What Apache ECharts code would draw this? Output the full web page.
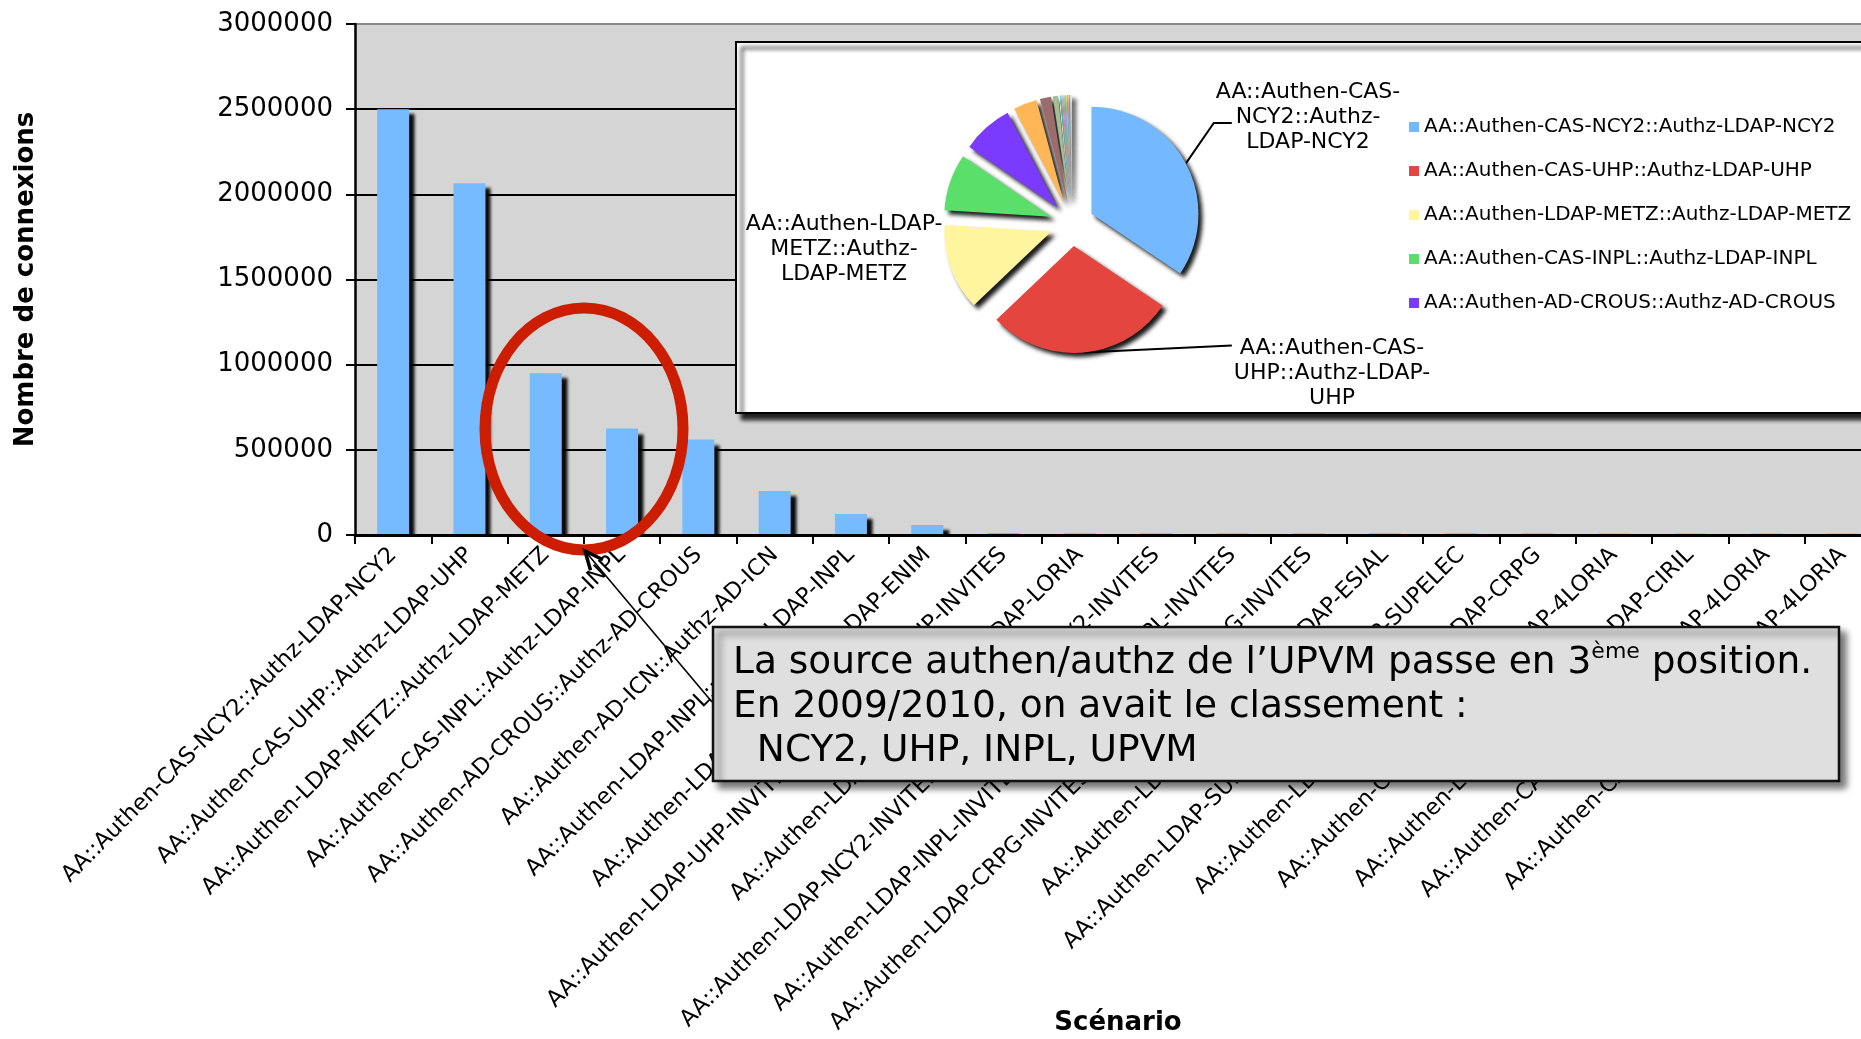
<!DOCTYPE html>
<html>
<head>
<meta charset="utf-8">
<script src="https://cdn.jsdelivr.net/npm/echarts@6/dist/echarts.min.js"></script>
<style>
    html, body { margin: 0; padding: 0; background: #fff; }
    #chart { width: 1861px; height: 1039px; }
</style>
</head>
<body>
<div id="chart"></div>
<script>
    // scénarios, triés par nombre de connexions
    var categories = [
        'AA::Authen-CAS-NCY2::Authz-LDAP-NCY2',
        'AA::Authen-CAS-UHP::Authz-LDAP-UHP',
        'AA::Authen-LDAP-METZ::Authz-LDAP-METZ',
        'AA::Authen-CAS-INPL::Authz-LDAP-INPL',
        'AA::Authen-AD-CROUS::Authz-AD-CROUS',
        'AA::Authen-AD-ICN::Authz-AD-ICN',
        'AA::Authen-LDAP-INPL::Authz-LDAP-INPL',
        'AA::Authen-LDAP-ENIM::Authz-LDAP-ENIM',
        'AA::Authen-LDAP-UHP-INVITES::Authz-LDAP-UHP-INVITES',
        'AA::Authen-LDAP-LORIA::Authz-LDAP-LORIA',
        'AA::Authen-LDAP-NCY2-INVITES::Authz-LDAP-NCY2-INVITES',
        'AA::Authen-LDAP-INPL-INVITES::Authz-LDAP-INPL-INVITES',
        'AA::Authen-LDAP-CRPG-INVITES::Authz-LDAP-CRPG-INVITES',
        'AA::Authen-LDAP-ESIAL::Authz-LDAP-ESIAL',
        'AA::Authen-LDAP-SUPELEC::Authz-LDAP-SUPELEC',
        'AA::Authen-LDAP-CRPG::Authz-LDAP-CRPG',
        'AA::Authen-CAS-UHP::Authz-LDAP-4LORIA',
        'AA::Authen-LDAP-CIRIL::Authz-LDAP-CIRIL',
        'AA::Authen-CAS-NCY2::Authz-LDAP-4LORIA',
        'AA::Authen-CAS-INPL::Authz-LDAP-4LORIA'
    ];
    var connexions = [2500000, 2065000, 950000, 625000, 560000, 258000, 123000, 58000,
        11500, 11000, 10800, 10500, 10300, 10000, 9800, 9600, 9400, 9200, 9000, 8800];

    var pieColors = ['#74b9ff', '#e5453f', '#fff59e', '#5adf6a', '#7b3bff', '#ffb657',
        '#9c6b6b', '#a6be96', '#fffbc8', '#3fd3f0', '#c8c8c8', '#f0a0c0', '#90e0b0',
        '#b0b0ff', '#e0e080', '#80c0ff', '#ffc0a0', '#a0a0a0', '#d0f0f0', '#ffe0ff'];
    var pieLabels = [
        'AA::Authen-CAS-\nNCY2::Authz-\nLDAP-NCY2',
        'AA::Authen-CAS-\nUHP::Authz-LDAP-\nUHP',
        'AA::Authen-LDAP-\nMETZ::Authz-\nLDAP-METZ'
    ];
    var pieLabelPos = [[1308, 117], [1332, 373], [844, 249]];
    var legendNames = categories.slice(0, 5);

    var yMax = 3000000, yStep = 500000;

    var noteText = '{a|La source authen/authz de l\u2019UPVM passe en 3}{s|ème}{a| position.}\n' +
        '{a|En 2009/2010, on avait le classement :}\n' +
        '{a|  NCY2, UHP, INPL, UPVM}';

    var font = 'DejaVu Sans';
    var pieCenter = [1072, 224], pieRadius = 107, pieOffset = 22;

    // flèche de la note vers le cercle
    var tip = [585, 551], tail = [712, 702];
    var ang = Math.atan2(tail[1] - tip[1], tail[0] - tip[0]);
    var head = [
        [tip[0] + 20 * Math.cos(ang - 0.42), tip[1] + 20 * Math.sin(ang - 0.42)],
        tip,
        [tip[0] + 20 * Math.cos(ang + 0.42), tip[1] + 20 * Math.sin(ang + 0.42)]
    ];

    var pieData = connexions.map(function (v, i) {
        return { name: categories[i], value: v, selected: true };
    });
    // même découpage, sans éclatement, qui porte seulement les étiquettes
    var pieLabelData = connexions.map(function (v, i) {
        return {
            name: categories[i],
            value: v,
            label: { show: i < 3 },
            labelLine: { show: i < 2 }
        };
    });

    var myChart = echarts.init(document.getElementById('chart'));
    var option = {
        animation: false,
        textStyle: { fontFamily: font },
        grid: {
            left: 355, top: 24, width: 1526, height: 511,
            outerBoundsMode: 'none',
            containLabel: false,
            show: true, backgroundColor: '#d5d5d5', borderWidth: 0
        },
        xAxis: {
            type: 'category',
            data: categories,
            z: 5,
            offset: 1.5,
            name: 'Scénario',
            nameLocation: 'middle',
            nameGap: 474,
            nameMoveOverlap: false,
            nameTextStyle: { fontSize: 26, fontWeight: 'bold', color: '#000', fontFamily: font },
            axisLine: { lineStyle: { color: '#000', width: 3 } },
            axisTick: { show: true, length: 9, lineStyle: { color: '#000', width: 2 } },
            axisLabel: {
                interval: 0, rotate: 45, fontSize: 22.5, color: '#000', margin: 15,
                fontFamily: font
            },
            splitLine: { show: false }
        },
        yAxis: {
            type: 'value',
            min: 0, max: yMax, interval: yStep,
            name: 'Nombre de connexions',
            nameLocation: 'middle',
            nameGap: 316,
            nameMoveOverlap: false,
            nameTextStyle: { fontSize: 26, fontWeight: 'bold', color: '#000', fontFamily: font },
            axisLine: { show: true, lineStyle: { color: '#000', width: 2.5 } },
            axisTick: { show: true, length: 9, lineStyle: { color: '#000', width: 2 } },
            axisLabel: {
                fontSize: 26, color: '#000', margin: 22, fontFamily: font,
                formatter: function (v) { return String(v); }
            },
            splitLine: {
                show: true,
                lineStyle: { color: ['#000', '#000', '#000', '#000', '#000', '#000', '#8a8a8a'], width: 2 }
            }
        },
        legend: {
            data: legendNames,
            orient: 'vertical',
            left: 1404, top: 112,
            itemWidth: 10, itemHeight: 10, itemGap: 24,
            icon: 'rect',
            selectedMode: false,
            z: 9,
            textStyle: { fontSize: 20, color: '#000', fontFamily: font }
        },
        series: [{
            type: 'bar',
            name: 'Connexions',
            data: connexions,
            barWidth: 32,
            z: 2,
            itemStyle: {
                color: '#76bbff',
                shadowColor: 'rgba(0,0,0,0.95)',
                shadowBlur: 3,
                shadowOffsetX: 6,
                shadowOffsetY: 5
            }
        }, {
            type: 'pie',
            name: 'Répartition',
            center: pieCenter,
            radius: pieRadius,
            startAngle: 90,
            clockwise: true,
            selectedMode: 'multiple',
            selectedOffset: pieOffset,
            z: 8,
            silent: true,
            color: pieColors,
            data: pieData,
            itemStyle: {
                borderWidth: 0,
                shadowColor: 'rgba(0,0,0,0.9)',
                shadowBlur: 4,
                shadowOffsetX: 4,
                shadowOffsetY: 4
            },
            label: { show: false },
            labelLine: { show: false }
        }, {
            type: 'pie',
            name: 'Etiquettes',
            center: pieCenter,
            radius: pieRadius + pieOffset,
            startAngle: 90,
            clockwise: true,
            z: 8,
            silent: true,
            data: pieLabelData,
            itemStyle: { color: 'rgba(0,0,0,0)', borderWidth: 0 },
            label: {
                show: true,
                position: 'outside',
                fontSize: 22,
                lineHeight: 25,
                color: '#000',
                fontFamily: font,
                formatter: function (p) { return pieLabels[p.dataIndex] || ''; }
            },
            labelLine: {
                show: true, length: 20, length2: 20,
                lineStyle: { color: '#000', width: 2 }
            },
            labelLayout: function (p) {
                var pos = pieLabelPos[p.dataIndex];
                if (!pos) return {};
                var w = p.labelRect.width, h = p.labelRect.height;
                var left = pos[0] - w / 2;
                var res = { x: pos[0], y: pos[1], align: 'center', verticalAlign: 'middle' };
                if (p.labelLinePoints && p.dataIndex < 2) {
                    var p0 = p.labelLinePoints[0];
                    if (p.dataIndex === 0) {
                        res.labelLinePoints = [p0, [left - 2, pos[1] + 6], [left + 16, pos[1] + 6]];
                    } else {
                        res.labelLinePoints = [p0, [left - 2, pos[1] - h / 2 + 10]];
                    }
                }
                return res;
            }
        }],
        graphic: [{
            // bande blanche sous l'axe : masque l'ombre des barres
            type: 'rect',
            z: 3,
            shape: { x: 357, y: 537, width: 1504, height: 12 },
            style: { fill: '#fff' }
        }, {
            // cadre blanc du camembert
            type: 'rect',
            z: 6,
            shape: { x: 736, y: 42, width: 1200, height: 371 },
            style: {
                fill: '#fff', stroke: '#000', lineWidth: 2,
                shadowColor: 'rgba(0,0,0,0.85)', shadowBlur: 4, shadowOffsetX: 6, shadowOffsetY: 6
            }
        }, {
            type: 'ellipse',
            z: 20,
            shape: { cx: 584, cy: 429, rx: 99, ry: 121 },
            style: { fill: null, stroke: '#cc1d00', lineWidth: 11 }
        }, {
            type: 'polyline',
            z: 21,
            shape: { points: [tail, tip] },
            style: { stroke: '#000', lineWidth: 1.6, fill: null }
        }, {
            type: 'polyline',
            z: 21,
            shape: { points: head },
            style: { stroke: '#000', lineWidth: 3.5, fill: null }
        }, {
            type: 'rect',
            z: 22,
            shape: { x: 713, y: 627, width: 1126, height: 154 },
            style: {
                fill: '#dfdfdf', stroke: '#111', lineWidth: 2.5,
                shadowColor: 'rgba(0,0,0,0.55)', shadowBlur: 7, shadowOffsetX: 6, shadowOffsetY: 6
            }
        }, {
            type: 'text',
            z: 23,
            x: 733, y: 641,
            style: {
                text: noteText,
                fill: '#000',
                font: '37.5px ' + font,
                rich: {
                    a: { fontSize: 37.5, lineHeight: 44, fontFamily: font, fill: '#000' },
                    s: { fontSize: 22, lineHeight: 38, verticalAlign: 'top', fontFamily: font, fill: '#000' }
                }
            }
        }]
    };
    myChart.setOption(option);
</script>
</body>
</html>
